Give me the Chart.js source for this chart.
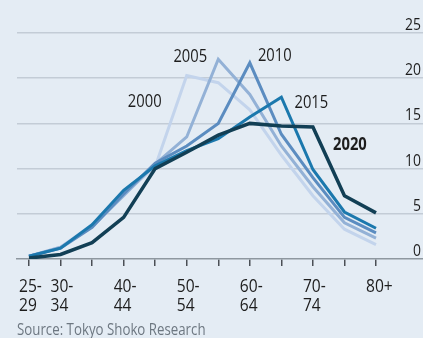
<!DOCTYPE html>
<html>
<head>
<meta charset="utf-8">
<script src="https://cdn.jsdelivr.net/npm/chart.js@4"></script>
<style>
  html, body { margin: 0; padding: 0; background: #e4ecf4; }
  #wrap { position: relative; width: 423px; height: 338px; overflow: hidden; }
  #source {
    position: absolute; left: 17px; top: 321px;
    font: 16px/16px 'Open Sans', sans-serif;
    color: #6d7781; white-space: nowrap;
    transform: scaleX(0.83); transform-origin: left top;
  }
</style>
</head>
<body>
<div id="wrap">
  <canvas id="graph" width="423" height="338"></canvas>
  <div id="source">Source: Tokyo Shoko Research</div>
</div>
<script>
const FONT = "'Open Sans', sans-serif"
const NARROW = 0.82 // squeeze text horizontally to get a condensed face

const ageGroups = ['25-29', '30-34', '35-39', '40-44', '45-49', '50-54',
  '55-59', '60-64', '65-69', '70-74', '75-79', '80+']
// only every other group gets a label under the axis
const tickLabels = [['25-', '29'], ['30-', '34'], null, ['40-', '44'], null, ['50-', '54'],
  null, ['60-', '64'], null, ['70-', '74'], null, ['80+']]

const years = ['2000', '2005', '2010', '2015', '2020']
const share2000 = [0.3, 1.3, 3.8, 7.2, 10.2, 20.3, 19.5, 16.5, 11.5, 7.0, 3.3, 1.6]
const share2005 = [0.3, 1.3, 3.6, 7.0, 10.5, 13.5, 22.1, 18.2, 12.5, 8.0, 4.0, 2.3]
const share2010 = [0.3, 1.2, 3.5, 7.2, 10.6, 12.5, 15.0, 21.7, 13.8, 9.0, 4.6, 2.9]
const share2015 = [0.3, 1.2, 3.8, 7.6, 10.3, 12.0, 13.3, 15.7, 17.9, 9.9, 5.2, 3.4]
const share2020 = [0.1, 0.5, 1.8, 4.6, 10.0, 11.8, 13.7, 15.0, 14.7, 14.6, 7.0, 5.1]
const yTicks = [0, 5, 10, 15, 20, 25]

const COLOURS = ['#c3d4ec', '#93b1d6', '#5b8cc0', '#1b78ad', '#123f55']
// where each year's name sits: the point it hangs off, plus a nudge in px
const LABEL_AT = [
  { index: 5, dx: -42, dy: 26, bold: false },
  { index: 6, dx: -28, dy: -2, bold: false },
  { index: 7, dx: 25, dy: -7, bold: false },
  { index: 8, dx: 30, dy: 6, bold: false },
  { index: 9, dx: 37, dy: 18, bold: true },
]

const allShares = [share2000, share2005, share2010, share2015, share2020]

function squeezedText(c, text, x, y) {
  c.save()
  c.translate(x, y)
  c.scale(NARROW, 1)
  c.fillText(text, 0, 0)
  c.restore()
}

// tick labels and year names, drawn narrow off the chart's own scales
const textLayer = {
  id: 'textLayer',
  afterDraw(chart) {
    const { ctx, scales } = chart
    const { x: xs, y: ys } = scales
    ctx.save()
    ctx.fillStyle = '#1d1d1d'
    ctx.textBaseline = 'alphabetic'

    ctx.textAlign = 'left'
    ctx.font = '19px ' + FONT
    tickLabels.forEach((lines, i) => {
      if (!lines) return
      const px = xs.getPixelForValue(i) - 10
      lines.forEach((line, k) => squeezedText(ctx, line, px, ys.bottom + 33 + k * 19))
    })

    ctx.textAlign = 'right'
    ctx.font = '17px ' + FONT
    yTicks.forEach((v) => squeezedText(ctx, String(v), chart.width - 2, ys.getPixelForValue(v) - 3))

    ctx.textAlign = 'center'
    ctx.textBaseline = 'middle'
    years.forEach((year, i) => {
      const spot = LABEL_AT[i]
      const x = xs.getPixelForValue(spot.index) + spot.dx
      const y = ys.getPixelForValue(allShares[i][spot.index]) + spot.dy
      ctx.font = (spot.bold ? 'bold ' : '') + '18px ' + FONT
      squeezedText(ctx, year, x, y)
    })
    ctx.restore()
  },
}

const ctx = document.getElementById('graph').getContext('2d')

let graph = new Chart(ctx, {
  type: 'line',
  data: {
    datasets: years.map((year, i) => ({
      label: year,
      data: allShares[i].map((v, j) => ({ x: j, y: v })),
      borderColor: COLOURS[i],
      backgroundColor: 'transparent',
      borderWidth: i === 4 ? 3.5 : 3,
      pointRadius: 0,
      tension: 0,
      order: 4 - i,
    })),
  },
  options: {
    responsive: false,
    animation: false,
    layout: { padding: { left: 17, right: 0, top: 33, bottom: 72 } },
    plugins: { legend: { display: false }, tooltip: { enabled: false } },
    scales: {
      x: {
        type: 'linear',
        min: -0.38,
        max: 12.49,
        afterBuildTicks: (scale) => {
          scale.ticks = ageGroups.map((g, i) => ({ value: i }))
        },
        ticks: { display: false },
        grid: {
          drawOnChartArea: false,
          drawTicks: true,
          tickLength: 7,
          color: '#4a4f55',
          lineWidth: 1.5,
        },
        border: { display: true, color: '#8e979f', width: 1.5 },
      },
      y: {
        position: 'right',
        min: 0,
        max: 25,
        afterBuildTicks: (scale) => {
          scale.ticks = yTicks.map((v) => ({ value: v }))
        },
        ticks: { display: false },
        grid: {
          drawTicks: false,
          color: (c) => (c.tick && c.tick.value === 0 ? 'rgba(0,0,0,0)' : '#c3ccd6'),
          lineWidth: 1.5,
        },
        border: { display: false },
      },
    },
  },
  plugins: [textLayer],
})
</script>
</body>
</html>
